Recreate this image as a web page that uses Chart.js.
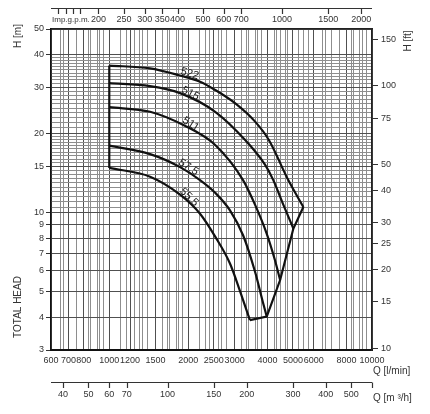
<!DOCTYPE html>
<html>
<head>
<meta charset="utf-8">
<script src="https://cdn.jsdelivr.net/npm/chart.js@4.4.1/dist/chart.umd.min.js"></script>
<style>
  html, body { margin: 0; padding: 0; background: #fff; }
  canvas { display: block; }
</style>
</head>
<body>
<canvas id="pumpChart" width="430" height="414"></canvas>
<script>
// curve values: Q [l/min], H [m]
const curveNames = ["522", "515", "511", "57.5", "55.5"];
const q522 = [1000, 1430, 1830, 2215, 2530, 3010, 3590, 4050, 4800, 5480];
const h522 = [36.3, 35.4, 33.4, 31.5, 29.3, 26.1, 22.2, 18.9, 13.3, 10.5];
const q515 = [1000, 1430, 1860, 2530, 3290, 3920, 4210, 4600, 5020];
const h515 = [31.1, 30.3, 28.5, 24.2, 18.9, 15.2, 13.3, 10.7, 8.7];
const q511 = [1000, 1430, 1940, 2530, 3230, 3590, 3970, 4270, 4470];
const h511 = [25.2, 24.2, 21.4, 18.1, 13.3, 10.7, 8.34, 6.6, 5.54];
const q575 = [1000, 1430, 1860, 2215, 2530, 2880, 3230, 3590, 3850, 3975];
const h575 = [18.0, 16.7, 14.9, 13.3, 11.9, 10.2, 8.2, 5.94, 4.53, 4.02];
const q555 = [1000, 1430, 1860, 2215, 2530, 2880, 3150, 3430];
const h555 = [14.8, 13.7, 11.7, 9.9, 8.1, 6.4, 5.0, 3.9];
const labelQ = [2000, 2000, 2000, 1960, 1960];

// tick labels
const qLabels = [600, 700, 800, 1000, 1200, 1500, 2000, 2500, 3000, 4000, 5000, 6000, 8000, 10000];
const hLabels = [3, 4, 5, 6, 7, 8, 9, 10, 15, 20, 30, 40, 50];
const ftLabels = [10, 15, 20, 25, 30, 40, 50, 75, 100, 150];
const gpmLabels = [200, 250, 300, 350, 400, 500, 600, 700, 1000, 1500, 2000];
const gpmMinor = [140, 150, 160, 170];
const m3hLabels = [40, 50, 60, 70, 100, 150, 200, 300, 400, 500];

const GAL = 4.54609, FT = 0.3048;
const FONT = "'Liberation Sans Narrow', 'Liberation Sans', Arial, sans-serif";

function steps(a, b, s) {
  const out = [];
  for (let v = a; v < b - 1e-9; v += s) out.push(+v.toFixed(3));
  return out;
}
// grid of the sheet: l/min lines plus the m3/h lines that fall between them
const lpmGrid = [...steps(600, 1000, 50), ...steps(1000, 2000, 100), ...steps(2000, 4000, 200),
  ...steps(4000, 6000, 250), ...steps(6000, 10000, 500), 10000];
const m3Grid = [...steps(40, 100, 5), ...steps(100, 200, 10), ...steps(200, 300, 20), ...steps(300, 600, 50)]
  .map(v => v * 1000 / 60)
  .filter(v => lpmGrid.every(u => Math.abs(Math.log10(v / u)) > 0.007));
const qGrid = [...lpmGrid, ...m3Grid].sort((a, b) => a - b);
const hGrid = [...steps(3, 10, 1), ...steps(10, 20, 0.5), ...steps(20, 40, 1), 40, 50];

const curves = [[q522, h522], [q515, h515], [q511, h511], [q575, h575], [q555, h555]];
const pts = (qs, hs) => qs.map((q, i) => ({ x: q, y: hs[i] }));

const datasets = curves.map(([qs, hs], i) => ({
  label: curveNames[i],
  data: pts(qs, hs),
  borderColor: "#111",
  borderWidth: 2.2,
  pointRadius: 0,
  cubicInterpolationMode: "monotone"
}));
// left edge and right limit join the curve ends
datasets.push({
  label: "start", data: curves.map(([qs, hs]) => ({ x: qs[0], y: hs[0] })),
  borderColor: "#111", borderWidth: 2.2, pointRadius: 0, tension: 0
});
datasets.push({
  label: "end", data: curves.map(([qs, hs]) => ({ x: qs[qs.length - 1], y: hs[hs.length - 1] })),
  borderColor: "#111", borderWidth: 2.2, pointRadius: 0, tension: 0
});

function setTicks(vals) {
  return scale => { scale.ticks = vals.map(v => ({ value: v })); };
}

const extras = {
  id: "extras",
  afterDraw(chart) {
    const { ctx, scales } = chart;
    const x = scales.x, y = scales.y;
    ctx.save();
    ctx.strokeStyle = "#333";
    ctx.fillStyle = "#333";
    ctx.lineWidth = 1.2;

    // separate gpm axis line at the top
    const g = scales.xgpm;
    ctx.beginPath();
    ctx.moveTo(g.left, 8.5); ctx.lineTo(g.right, 8.5);
    g.ticks.forEach(t => {
      const px = Math.round(g.getPixelForValue(t.value)) + 0.5;
      ctx.moveTo(px, 8.5); ctx.lineTo(px, 14);
    });
    ctx.stroke();

    // separate m3/h axis line at the bottom
    const m = scales.xm3;
    ctx.beginPath();
    ctx.moveTo(m.left, 382.5); ctx.lineTo(m.right, 382.5);
    m.ticks.forEach(t => {
      const px = Math.round(m.getPixelForValue(t.value)) + 0.5;
      ctx.moveTo(px, 382.5); ctx.lineTo(px, 388);
    });
    ctx.stroke();

    // titles
    ctx.font = "8px " + FONT;
    ctx.textBaseline = "middle";
    ctx.textAlign = "left";
    ctx.fillText("Imp.g.p.m.", g.left + 1, 20);
    ctx.font = "10px " + FONT;
    ctx.fillText("Q [l/min]", x.right + 1, 371);
    ctx.fillText("Q [m \u00b3/h]", x.right + 1, 398);
    const vText = (txt, px, py) => {
      ctx.save();
      ctx.translate(px, py);
      ctx.rotate(-Math.PI / 2);
      ctx.textAlign = "center";
      ctx.fillText(txt, 0, 0);
      ctx.restore();
    };
    vText("H [m]", 18, 36);
    vText("H [ft]", 408, 41);
    vText("TOTAL HEAD", 18, 307);

    // curve labels along the curves
    ctx.font = "11px " + FONT;
    ctx.fillStyle = "#222";
    curves.forEach(([qs, hs], i) => {
      const hAt = q => {
        let k = 0;
        while (k < qs.length - 2 && qs[k + 1] < q) k++;
        const t = (Math.log(q) - Math.log(qs[k])) / (Math.log(qs[k + 1]) - Math.log(qs[k]));
        return Math.exp(Math.log(hs[k]) + t * (Math.log(hs[k + 1]) - Math.log(hs[k])));
      };
      const q0 = labelQ[i];
      const x1 = x.getPixelForValue(q0 * 0.97), y1 = y.getPixelForValue(hAt(q0 * 0.97));
      const x2 = x.getPixelForValue(q0 * 1.03), y2 = y.getPixelForValue(hAt(q0 * 1.03));
      const ang = Math.atan2(y2 - y1, x2 - x1);
      ctx.save();
      ctx.translate((x1 + x2) / 2, (y1 + y2) / 2);
      ctx.rotate(ang);
      ctx.textAlign = "center";
      ctx.textBaseline = "alphabetic";
      ctx.fillText(curveNames[i], 0, -1.5);
      ctx.restore();
    });
    ctx.restore();
  }
};

new Chart(document.getElementById("pumpChart").getContext("2d"), {
  type: "line",
  data: { datasets },
  plugins: [extras],
  options: {
    responsive: false,
    animation: false,
    events: [],
    layout: { padding: 0 },
    plugins: { legend: { display: false }, tooltip: { enabled: false } },
    scales: {
      x: {
        type: "logarithmic", position: "bottom", weight: 0,
        min: 600, max: 10000,
        afterBuildTicks: setTicks(qGrid),
        afterFit: s => { s.height = 22; },
        grid: {
          drawTicks: false,
          color: c => qLabels.includes(c.tick && c.tick.value) ? "#505050" : "#8e8e8e",
          lineWidth: 1
        },
        border: { color: "#111", width: 2 },
        ticks: {
          autoSkip: false, maxRotation: 0, minRotation: 0, padding: 5,
          color: "#333", font: { family: FONT, size: 9 },
          callback: v => qLabels.includes(v) ? String(v) : ""
        }
      },
      xm3: {
        type: "logarithmic", position: "bottom", weight: 1,
        min: 36, max: 600,
        afterBuildTicks: setTicks([...m3hLabels, 600]),
        afterFit: s => { s.height = 42; },
        grid: { display: false, drawTicks: false },
        border: { display: false },
        ticks: {
          autoSkip: false, maxRotation: 0, minRotation: 0, padding: 17,
          color: "#333", font: { family: FONT, size: 9 },
          callback: v => m3hLabels.includes(v) ? String(v) : ""
        }
      },
      xgpm: {
        type: "logarithmic", position: "top",
        min: 600 / GAL, max: 10000 / GAL,
        afterBuildTicks: setTicks([...gpmMinor, ...gpmLabels]),
        afterFit: s => { s.height = 29; },
        grid: { display: false, drawTicks: false },
        border: { color: "#222", width: 1.5 },
        ticks: {
          autoSkip: false, maxRotation: 0, minRotation: 0, padding: 4,
          color: "#333", font: { family: FONT, size: 9 },
          callback: v => gpmLabels.includes(v) ? String(v) : ""
        }
      },
      y: {
        type: "logarithmic", position: "left",
        min: 3, max: 50,
        afterBuildTicks: setTicks(hGrid),
        afterFit: s => { s.width = 51; },
        grid: {
          tickLength: 5,
          color: c => hLabels.includes(c.tick && c.tick.value) ? "#505050" : "#8e8e8e",
          tickColor: c => hLabels.includes(c.tick && c.tick.value) ? "#333" : "rgba(0,0,0,0)",
          lineWidth: 1
        },
        border: { color: "#111", width: 1.5 },
        ticks: {
          autoSkip: false, padding: 2,
          color: "#333", font: { family: FONT, size: 9 },
          callback: v => hLabels.includes(v) ? String(v) : ""
        }
      },
      yft: {
        type: "logarithmic", position: "right",
        min: 3 / FT, max: 50 / FT,
        afterBuildTicks: setTicks(ftLabels),
        afterFit: s => { s.width = 58; },
        grid: { drawOnChartArea: false, tickLength: 6, color: "#333", lineWidth: 1 },
        border: { color: "#222", width: 1.5 },
        ticks: {
          autoSkip: false, padding: 3,
          color: "#333", font: { family: FONT, size: 9 },
          callback: v => String(v)
        }
      }
    }
  }
});
</script>
</body>
</html>
